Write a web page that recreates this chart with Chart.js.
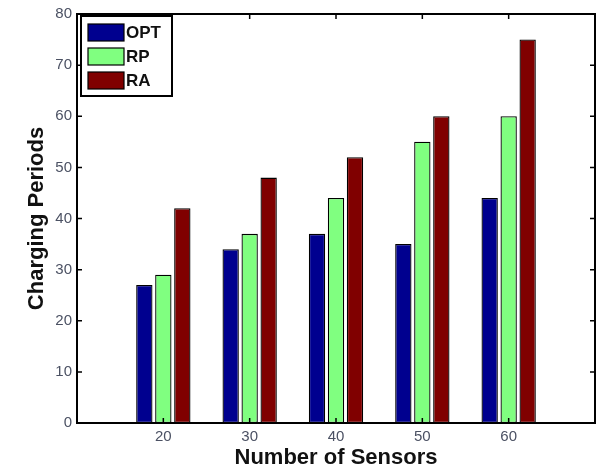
<!DOCTYPE html>
<html>
<head>
<meta charset="utf-8">
<script src="https://cdn.jsdelivr.net/npm/chart.js@4"></script>
<style>
  html, body { margin: 0; padding: 0; background: #fff; }
  #wrap { width: 603px; height: 474px; }
</style>
</head>
<body>
<div id="wrap"><canvas id="chart" width="603" height="474"></canvas></div>
<script>
// values
const sensors = [20, 30, 40, 50, 60]
const optValues = [27, 34, 37, 35, 44]
const rpValues = [29, 37, 44, 55, 60]
const raValues = [42, 48, 52, 60, 75]
const yTicks = [0, 10, 20, 30, 40, 50, 60, 70, 80]

const tickColor = '#4b5163'
const fontFam = '"Liberation Sans", Arial, sans-serif'

function toPoints(values){
    return values.map((v, i) => ({ x: sensors[i], y: v }))
}

// box round the plot, inward ticks on all four sides
const framePlugin = {
    id: 'frame',
    afterDraw(chart){
        const ctx = chart.ctx
        const a = chart.chartArea
        const xs = chart.scales.x
        const ys = chart.scales.y
        ctx.save()
        ctx.strokeStyle = '#000'
        ctx.lineWidth = 2
        ctx.strokeRect(a.left, a.top, a.right - a.left, a.bottom - a.top)

        ctx.lineWidth = 1.5
        ctx.beginPath()
        sensors.forEach(s => {
            let px = xs.getPixelForValue(s)
            ctx.moveTo(px, a.bottom); ctx.lineTo(px, a.bottom - 5)
            ctx.moveTo(px, a.top); ctx.lineTo(px, a.top + 5)
        })
        yTicks.forEach(t => {
            let py = ys.getPixelForValue(t)
            ctx.moveTo(a.left, py); ctx.lineTo(a.left + 5, py)
            ctx.moveTo(a.right, py); ctx.lineTo(a.right - 5, py)
        })
        ctx.stroke()
        ctx.restore()
    }
}

// matlab style legend box in the upper left corner of the plot
const legendPlugin = {
    id: 'boxLegend',
    afterDraw(chart){
        const ctx = chart.ctx
        const a = chart.chartArea
        let x0 = a.left + 4
        let y0 = a.top + 2
        ctx.save()
        ctx.fillStyle = '#fff'
        ctx.fillRect(x0, y0, 91, 80)
        ctx.strokeStyle = '#000'
        ctx.lineWidth = 2
        ctx.strokeRect(x0, y0, 91, 80)
        ctx.font = 'bold 17px ' + fontFam
        ctx.textBaseline = 'middle'
        chart.data.datasets.forEach((ds, i) => {
            let cy = y0 + 16 + i * 24
            ctx.fillStyle = ds.backgroundColor
            ctx.fillRect(x0 + 7, cy - 8, 36, 17)
            ctx.lineWidth = 1.2
            ctx.strokeRect(x0 + 7, cy - 8, 36, 17)
            ctx.fillStyle = '#111'
            ctx.fillText(ds.label, x0 + 45, cy + 1)
        })
        ctx.restore()
    }
}

const ctx = document.getElementById('chart').getContext('2d')
const myChart = new Chart(ctx, {
    type: 'bar',
    data: {
        datasets: [
            { label: 'OPT', data: toPoints(optValues), backgroundColor: '#00008f' },
            { label: 'RP', data: toPoints(rpValues), backgroundColor: '#80ff80' },
            { label: 'RA', data: toPoints(raValues), backgroundColor: '#800000' },
        ]
    },
    options: {
        responsive: false,
        animation: false,
        layout: { padding: { left: 0, right: 8, top: 13, bottom: 0 } },
        datasets: {
            bar: {
                borderColor: '#000',
                borderWidth: 1.3,
                categoryPercentage: 0.66,
                barPercentage: 0.86,
                borderSkipped: false,
            }
        },
        scales: {
            x: {
                type: 'linear',
                min: 10,
                max: 70,
                offset: false,
                grid: { display: false, drawTicks: false },
                border: { display: false },
                ticks: {
                    stepSize: 10,
                    color: tickColor,
                    font: { family: fontFam, size: 15 },
                    padding: 5,
                    maxRotation: 0,
                    callback: v => sensors.includes(v) ? String(v) : ''
                },
                title: {
                    display: true,
                    text: 'Number of Sensors',
                    color: '#111',
                    font: { family: fontFam, size: 22, weight: 'bold' },
                    padding: { top: 0, bottom: 3 }
                },
                afterFit(scale){ scale.height = 51 }
            },
            y: {
                min: 0,
                max: 80,
                grid: { display: false, drawTicks: false },
                border: { display: false },
                ticks: {
                    stepSize: 10,
                    color: tickColor,
                    font: { family: fontFam, size: 15 },
                    padding: 5
                },
                title: {
                    display: true,
                    text: 'Charging Periods',
                    color: '#111',
                    font: { family: fontFam, size: 22, weight: 'bold' },
                    padding: { top: 24, bottom: 0 }
                },
                afterFit(scale){ scale.width = 77 }
            }
        },
        plugins: {
            legend: { display: false },
            tooltip: { enabled: false }
        }
    },
    plugins: [framePlugin, legendPlugin]
})
</script>
</body>
</html>
